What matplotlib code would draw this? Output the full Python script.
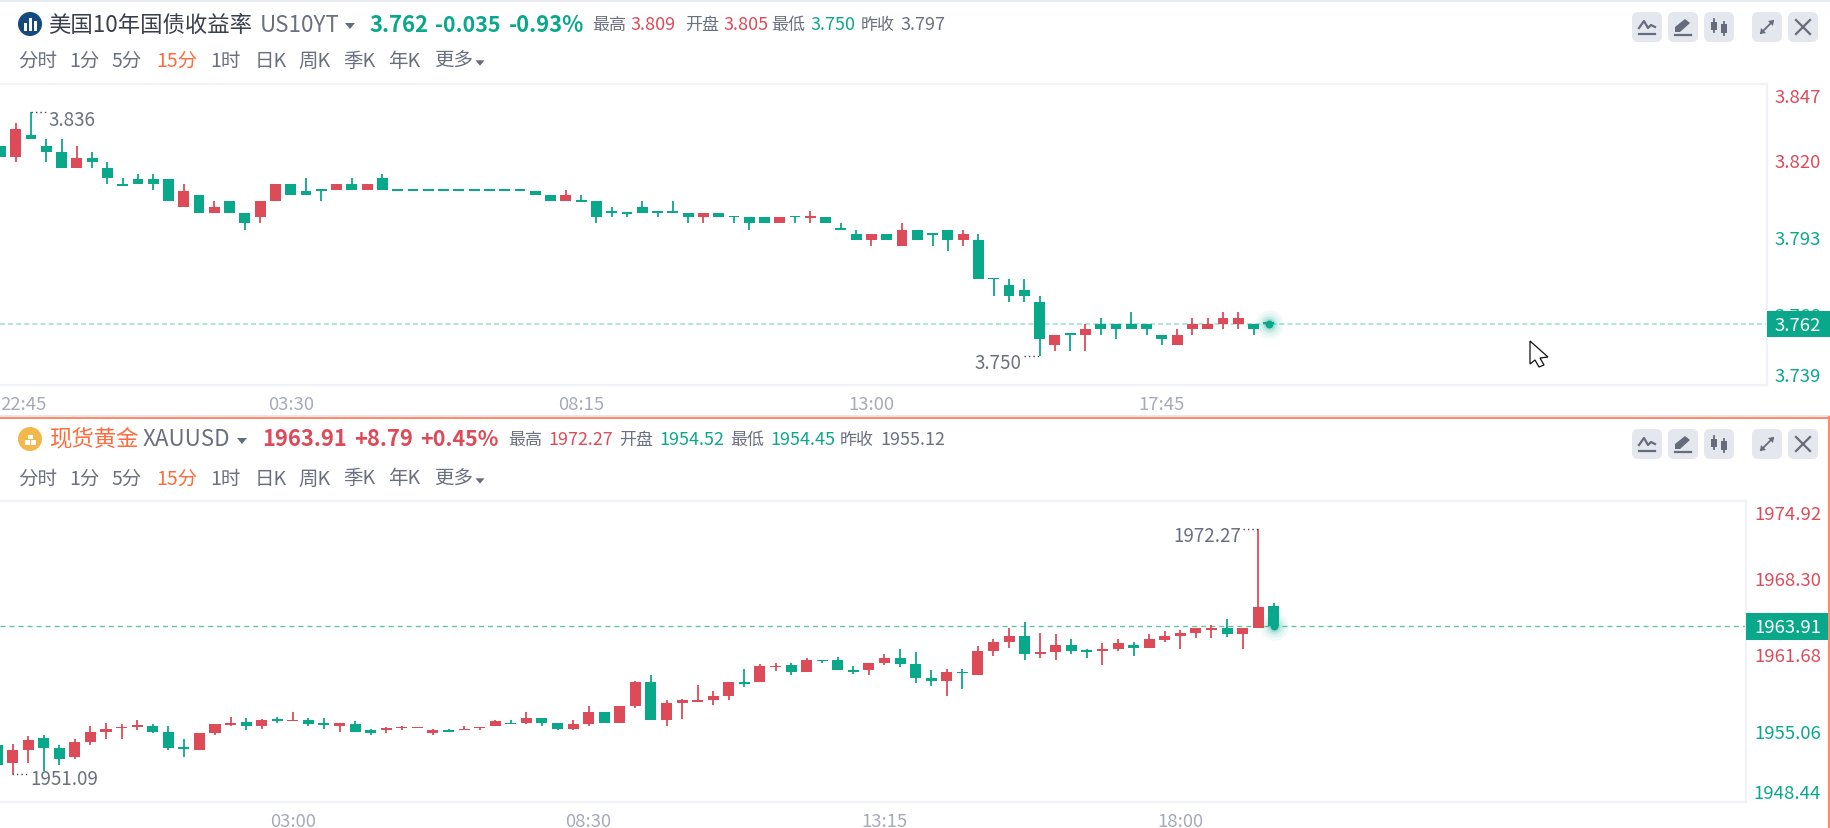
import numpy as np
import matplotlib
matplotlib.use("Agg")
import matplotlib.pyplot as plt
from matplotlib.patches import Circle, FancyBboxPatch, Polygon, Rectangle

plt.rcParams["font.family"] = ["Noto Sans CJK SC", "DejaVu Sans"]

W, H = 1830, 829
GREEN = "#0AA88A"
RED = "#DD4B59"
ORANGE = "#FF6B3D"
TEXT = "#6B7080"
DARK = "#3A3F4D"
TIME = "#A6AABA"
LINE = "#F1F2F7"
BTN = "#E4E7EE"
ICON = "#666C7B"

# 15 minute candles, US 10Y yield
US_OPEN = [
    3.8241, 3.8203, 3.8279, 3.8241, 3.8221, 3.8164, 3.8199, 3.8163, 3.8104, 3.8124,
    3.8124, 3.8124, 3.8026, 3.8067, 3.8005, 3.8046, 3.8004, 3.7989, 3.8048, 3.8105,
    3.8083, 3.8083, 3.8084, 3.8105, 3.8084, 3.8126, 3.8083, 3.8083, 3.8083, 3.8083,
    3.8083, 3.8083, 3.8083, 3.8083, 3.8083, 3.8083, 3.8067, 3.8048, 3.8046, 3.8046,
    3.8004, 3.8004, 3.8025, 3.8004, 3.8004, 3.8004, 3.7989, 3.8004, 3.7989, 3.7989,
    3.7989, 3.7968, 3.7989, 3.7988, 3.7989, 3.7945, 3.7930, 3.7909, 3.7930, 3.7888,
    3.7946, 3.7928, 3.7946, 3.7909, 3.7909, 3.7770, 3.7750, 3.7734, 3.7692, 3.7539,
    3.7575, 3.7576, 3.7613, 3.7613, 3.7613, 3.7613, 3.7575, 3.7539, 3.7596, 3.7596,
    3.7613, 3.7613, 3.7613, 3.7613,
]
US_CLOSE = [
    3.8200, 3.8300, 3.8264, 3.8221, 3.8164, 3.8199, 3.8185, 3.8126, 3.8100, 3.8105,
    3.8105, 3.8048, 3.8083, 3.8005, 3.8025, 3.8005, 3.7968, 3.8046, 3.8105, 3.8069,
    3.8069, 3.8083, 3.8105, 3.8084, 3.8105, 3.8084, 3.8083, 3.8083, 3.8083, 3.8083,
    3.8083, 3.8083, 3.8083, 3.8083, 3.8083, 3.8069, 3.8048, 3.8067, 3.8043, 3.7989,
    3.8004, 3.8002, 3.8004, 3.8004, 3.8004, 3.7989, 3.8004, 3.7989, 3.7989, 3.7968,
    3.7968, 3.7989, 3.7989, 3.7989, 3.7968, 3.7945, 3.7909, 3.7930, 3.7909, 3.7946,
    3.7909, 3.7928, 3.7909, 3.7930, 3.7771, 3.7770, 3.7713, 3.7713, 3.7560, 3.7575,
    3.7575, 3.7596, 3.7596, 3.7596, 3.7596, 3.7596, 3.7560, 3.7575, 3.7613, 3.7613,
    3.7634, 3.7634, 3.7596, 3.7613,
]
US_HIGH = [
    3.8241, 3.8321, 3.8360, 3.8264, 3.8264, 3.8241, 3.8221, 3.8183, 3.8126, 3.8142,
    3.8142, 3.8124, 3.8105, 3.8067, 3.8046, 3.8046, 3.8004, 3.8046, 3.8105, 3.8105,
    3.8126, 3.8083, 3.8105, 3.8126, 3.8105, 3.8142, 3.8083, 3.8083, 3.8083, 3.8083,
    3.8083, 3.8083, 3.8083, 3.8083, 3.8083, 3.8083, 3.8067, 3.8084, 3.8067, 3.8046,
    3.8026, 3.8004, 3.8046, 3.8004, 3.8046, 3.8004, 3.8004, 3.8004, 3.7989, 3.7989,
    3.7989, 3.7989, 3.7989, 3.8010, 3.7989, 3.7968, 3.7945, 3.7930, 3.7930, 3.7968,
    3.7946, 3.7928, 3.7946, 3.7946, 3.7930, 3.7770, 3.7771, 3.7771, 3.7713, 3.7575,
    3.7575, 3.7613, 3.7634, 3.7613, 3.7654, 3.7613, 3.7575, 3.7596, 3.7634, 3.7634,
    3.7654, 3.7654, 3.7613, 3.7613,
]
US_LOW = [
    3.8200, 3.8185, 3.8264, 3.8185, 3.8164, 3.8164, 3.8164, 3.8105, 3.8100, 3.8105,
    3.8084, 3.8048, 3.8026, 3.8005, 3.8005, 3.8005, 3.7946, 3.7968, 3.8048, 3.8069,
    3.8069, 3.8048, 3.8084, 3.8084, 3.8084, 3.8084, 3.8083, 3.8083, 3.8083, 3.8083,
    3.8083, 3.8083, 3.8083, 3.8083, 3.8083, 3.8069, 3.8048, 3.8048, 3.8043, 3.7968,
    3.7989, 3.7989, 3.8004, 3.7989, 3.8004, 3.7968, 3.7968, 3.7989, 3.7968, 3.7945,
    3.7968, 3.7968, 3.7968, 3.7968, 3.7968, 3.7945, 3.7909, 3.7888, 3.7909, 3.7888,
    3.7909, 3.7888, 3.7871, 3.7888, 3.7771, 3.7713, 3.7692, 3.7692, 3.7500, 3.7518,
    3.7518, 3.7518, 3.7575, 3.7560, 3.7596, 3.7575, 3.7539, 3.7539, 3.7575, 3.7596,
    3.7596, 3.7596, 3.7575, 3.7613,
]
US_TICKS = [3.847, 3.820, 3.793, 3.766, 3.739]
US_TICK_LABELS = ["3.847", "3.820", "3.793", "3.766", "3.739"]
US_TIME_POS = [0, 19, 38, 57, 76]
US_TIME_LABELS = ["22:45", "03:30", "08:15", "13:00", "17:45"]
US_PREV_CLOSE = 3.797

# 15 minute candles, spot gold
AU_OPEN = [
    1953.60, 1952.01, 1953.19, 1954.20, 1953.31, 1952.53, 1953.83, 1954.75, 1955.04, 1955.15,
    1955.24, 1954.72, 1953.28, 1953.19, 1954.61, 1955.35, 1955.61, 1955.27, 1955.76, 1955.64,
    1955.76, 1955.38, 1955.27, 1955.38, 1954.86, 1954.89, 1955.04, 1955.04, 1954.63, 1954.84,
    1954.86, 1955.04, 1955.27, 1955.47, 1955.53, 1955.90, 1955.50, 1955.01, 1955.38, 1956.42,
    1955.53, 1956.94, 1959.01, 1955.79, 1957.20, 1957.34, 1957.46, 1957.86, 1958.98, 1959.01,
    1960.31, 1960.54, 1959.91, 1960.94, 1960.94, 1960.05, 1960.05, 1960.68, 1961.09, 1960.57,
    1959.39, 1959.13, 1959.91, 1959.65, 1961.72, 1962.50, 1963.02, 1961.49, 1961.61, 1962.24,
    1961.72, 1961.75, 1961.87, 1962.24, 1961.98, 1962.64, 1963.02, 1963.28, 1963.57, 1963.68,
    1963.16, 1963.68, 1965.58,
]
AU_CLOSE = [
    1951.90, 1953.16, 1954.06, 1953.31, 1952.39, 1953.83, 1954.72, 1954.98, 1955.12, 1955.24,
    1954.75, 1953.31, 1953.28, 1954.61, 1955.38, 1955.50, 1955.27, 1955.76, 1955.67, 1955.73,
    1955.38, 1955.33, 1955.50, 1954.75, 1954.63, 1954.98, 1955.12, 1955.12, 1954.86, 1954.75,
    1954.98, 1955.12, 1955.64, 1955.38, 1955.90, 1955.53, 1955.01, 1955.38, 1956.42, 1955.53,
    1956.94, 1959.01, 1955.79, 1957.20, 1957.46, 1957.43, 1957.83, 1959.01, 1958.87, 1960.42,
    1960.42, 1959.91, 1960.94, 1960.83, 1960.05, 1959.94, 1960.68, 1961.09, 1960.57, 1959.39,
    1959.13, 1959.91, 1959.79, 1961.72, 1962.50, 1963.02, 1961.46, 1961.61, 1962.24, 1961.72,
    1961.63, 1961.87, 1962.38, 1961.98, 1962.76, 1963.02, 1963.28, 1963.68, 1963.68, 1963.16,
    1963.68, 1965.50, 1963.91,
]
AU_HIGH = [
    1953.60, 1953.68, 1954.35, 1954.46, 1953.57, 1954.09, 1955.24, 1955.50, 1955.38, 1955.76,
    1955.38, 1955.24, 1954.09, 1954.61, 1955.38, 1956.02, 1955.90, 1955.84, 1956.02, 1956.45,
    1955.90, 1955.90, 1955.50, 1955.64, 1954.98, 1955.12, 1955.24, 1955.12, 1954.98, 1954.98,
    1955.24, 1955.12, 1955.76, 1955.76, 1956.42, 1955.90, 1955.50, 1955.76, 1956.94, 1956.42,
    1956.94, 1959.13, 1959.65, 1957.46, 1957.57, 1958.75, 1958.24, 1959.01, 1960.17, 1960.57,
    1960.68, 1960.68, 1961.09, 1960.94, 1961.20, 1960.42, 1960.68, 1961.46, 1961.87, 1961.61,
    1960.05, 1960.17, 1960.17, 1962.12, 1962.76, 1963.68, 1964.20, 1963.28, 1963.16, 1962.76,
    1961.87, 1962.38, 1962.76, 1962.50, 1963.16, 1963.42, 1963.54, 1963.68, 1963.94, 1964.46,
    1963.68, 1972.27, 1965.87,
]
AU_LOW = [
    1951.90, 1951.09, 1952.01, 1951.38, 1951.87, 1952.42, 1953.57, 1954.09, 1954.09, 1954.86,
    1954.61, 1953.19, 1952.53, 1953.19, 1954.49, 1955.24, 1954.86, 1955.01, 1955.53, 1955.64,
    1955.27, 1955.01, 1954.75, 1954.75, 1954.49, 1954.63, 1954.86, 1955.04, 1954.49, 1954.72,
    1954.86, 1954.86, 1955.27, 1955.38, 1955.38, 1955.27, 1954.86, 1954.86, 1955.27, 1955.53,
    1955.53, 1956.82, 1955.79, 1955.27, 1955.87, 1957.34, 1957.08, 1957.46, 1958.64, 1959.01,
    1960.02, 1959.65, 1959.91, 1960.68, 1960.05, 1959.76, 1959.65, 1960.54, 1960.31, 1958.98,
    1958.73, 1957.83, 1958.47, 1959.65, 1961.32, 1961.98, 1960.94, 1961.09, 1960.94, 1961.46,
    1961.09, 1960.54, 1961.72, 1961.32, 1961.98, 1962.50, 1961.87, 1962.87, 1962.87, 1962.90,
    1961.87, 1963.68, 1963.85,
]
AU_TICKS = [1974.92, 1968.30, 1961.68, 1955.06, 1948.44]
AU_TICK_LABELS = ["1974.92", "1968.30", "1961.68", "1955.06", "1948.44"]
AU_TIME_POS = [19, 38, 57, 76]
AU_TIME_LABELS = ["03:00", "08:30", "13:15", "18:00"]
AU_PREV_CLOSE = 1955.12

PERIODS = ["分时", "1分", "5分", "15分", "1时", "日K", "周K", "季K", "年K", "更多"]
PERIOD_X = [18, 69, 112, 156, 210, 255, 298, 343, 388, 434]


def pts(px):
    return px * 0.72


fig = plt.figure(figsize=(W / 100, H / 100), dpi=100, facecolor="white")


def chart_axes(x0, x1, y0, y1):
    ax = fig.add_axes([x0 / W, 1 - y1 / H, (x1 - x0) / W, (y1 - y0) / H], zorder=1)
    ax.patch.set_alpha(0)
    return ax


def draw_candles(ax, opens, closes, highs, lows, height_px):
    o, c, h, l = map(np.array, (opens, closes, highs, lows))
    x = np.arange(len(o))
    colors = [RED if b > a else GREEN for a, b in zip(o, c)]
    y0, y1 = ax.get_ylim()
    min_h = (y1 - y0) / height_px * 1.6
    ax.vlines(x, l, h, colors=colors, lw=1.3, zorder=2)
    ax.bar(x, np.maximum(np.abs(c - o), min_h), bottom=np.minimum(o, c),
           width=0.71, color=colors, linewidth=0, zorder=3)


def draw_glow(ax, x, y):
    for s, a in [(420, 0.05), (260, 0.07), (140, 0.12), (70, 0.18)]:
        ax.scatter([x], [y], s=s, color=GREEN, alpha=a, linewidths=0, zorder=4, clip_on=False)
    ax.scatter([x], [y], s=32, color=GREEN, linewidths=0, zorder=5, clip_on=False)


def style_axes(ax, positions, labels):
    ax.set_yticks([])
    ax.set_xticks(positions, labels)
    ax.tick_params(axis="x", length=0, pad=7, labelsize=pts(18.5), labelcolor=TIME)
    for lab in ax.get_xticklabels():
        lab.set_x(lab.get_position()[0])
    ax.spines["left"].set_visible(False)
    for name in ("top", "right", "bottom"):
        ax.spines[name].set_color(LINE)
        ax.spines[name].set_linewidth(1.6)


# yield panel
ax1 = chart_axes(0, 1767, 85, 386)
ax1.set_xlim(-0.026, 115.6)
ax1.set_ylim(3.7398, 3.8459)
draw_candles(ax1, US_OPEN, US_CLOSE, US_HIGH, US_LOW, 301)
ax1.axhline(US_CLOSE[-1], color="#9ADFCF", lw=1.1, dashes=(3.3, 2.0), zorder=1)
draw_glow(ax1, len(US_CLOSE) - 1, US_CLOSE[-1])
style_axes(ax1, US_TIME_POS, US_TIME_LABELS)
ax1.get_xticklabels()[0].set_ha("left")

# gold panel
ax2 = chart_axes(0, 1746, 502, 803)
ax2.set_xlim(0.193, 112.33)
ax2.set_ylim(1948.67, 1974.69)
draw_candles(ax2, AU_OPEN, AU_CLOSE, AU_HIGH, AU_LOW, 301)
ax2.axhline(AU_CLOSE[-1], color="#62C2AD", lw=1.0, dashes=(3.6, 2.9), zorder=1)
draw_glow(ax2, len(AU_CLOSE) - 1, AU_CLOSE[-1])
style_axes(ax2, AU_TIME_POS, AU_TIME_LABELS)

# page furniture in pixel coordinates, above the charts
ui = fig.add_axes([0, 0, 1, 1], zorder=5)
ui.set_xlim(0, W)
ui.set_ylim(H, 0)
ui.axis("off")


def label(x, y, s, size=17, color=TEXT, ha="left", weight="normal", z=6):
    ui.text(x, y, s, fontsize=pts(size), color=color, ha=ha, va="center",
            fontweight=weight, zorder=z)


def tri(x, y, size=5):
    ui.add_patch(Polygon([(x - size, y - size * 0.6), (x + size, y - size * 0.6), (x, y + size * 0.6)],
                         closed=True, fc=ICON, ec="none"))


def button(x0, y0, kind):
    ui.add_patch(FancyBboxPatch((x0 + 4, y0 + 4), 22, 22, boxstyle="round,pad=4,rounding_size=6",
                                fc=BTN, ec="none"))
    cx, cy = x0 + 15, y0 + 15
    if kind == "line":
        ui.plot([cx - 8, cx + 8], [cy + 7, cy + 7], color=ICON, lw=1.6)
        ui.plot([cx - 8, cx - 3, cx + 1, cx + 4, cx + 8], [cy + 1, cy - 6, cy + 1, cy - 2, cy], color=ICON, lw=1.6)
    elif kind == "pen":
        ui.plot([cx - 8, cx + 8], [cy + 8, cy + 8], color=ICON, lw=1.6)
        ui.add_patch(Polygon([(cx - 8, cy + 5), (cx - 8, cy), (cx + 2, cy - 8), (cx + 7, cy - 4), (cx - 3, cy + 5)],
                             closed=True, fc=ICON, ec="none"))
    elif kind == "candles":
        ui.plot([cx - 5, cx - 5], [cy - 8, cy + 5], color=ICON, lw=1.3)
        ui.add_patch(Rectangle((cx - 8, cy - 5), 6, 8, fc=ICON, ec="none"))
        ui.plot([cx + 5, cx + 5], [cy - 5, cy + 8], color=ICON, lw=1.3)
        ui.add_patch(Rectangle((cx + 2, cy - 3), 6, 9, fc=ICON, ec="none"))
    elif kind == "expand":
        ui.plot([cx - 6, cx + 6], [cy + 6, cy - 6], color=ICON, lw=1.3)
        ui.add_patch(Polygon([(cx + 7, cy - 7), (cx + 1, cy - 6), (cx + 6, cy - 1)], fc=ICON, ec="none"))
        ui.add_patch(Polygon([(cx - 7, cy + 7), (cx - 1, cy + 6), (cx - 6, cy + 1)], fc=ICON, ec="none"))
    else:
        ui.plot([cx - 7, cx + 7], [cy - 7, cy + 7], color=ICON, lw=1.6)
        ui.plot([cx - 7, cx + 7], [cy + 7, cy - 7], color=ICON, lw=1.6)


def header_buttons(y0):
    for x0, kind in zip([1632, 1668, 1704, 1752, 1788], ["line", "pen", "candles", "expand", "close"]):
        button(x0, y0, kind)


def period_row(y):
    for x, s in zip(PERIOD_X, PERIODS):
        label(x, y, s, size=19.5, color=ORANGE if s == "15分" else TEXT)
    tri(480, y + 3, 4.5)


def price_labels(ticks, texts, prev, ax, top, bottom, x_right):
    y0, y1 = ax.get_ylim()
    for v, s in zip(ticks, texts):
        py = top + (y1 - v) / (y1 - y0) * (bottom - top) + 5
        py = np.clip(py, top + 13, bottom - 9)
        label(x_right, py, s, size=18.5, color=RED if v > prev else GREEN, ha="right")


# top strip and separators
ui.add_patch(Rectangle((0, 0), W, 2.5, fc="#E9EBF2", ec="none"))
ui.add_patch(Rectangle((0, 415.5), W, 2.5, fc="#E6E8F0", ec="none"))
ui.plot([0, W], [418.8, 418.8], color="#FF7548", lw=1.2)
ui.plot([W - 1, W - 1], [418, H], color="#FF8A65", lw=1.5)

# yield header
ui.add_patch(Circle((30, 25), 12, fc="#14497F", ec="none"))
for dx, top in [(-5, 24), (0, 19), (5, 22)]:
    ui.add_patch(Rectangle((30 + dx - 1.5, top), 3, 32 - top, fc="white", ec="none"))
label(48, 25, "美国10年国债收益率", size=22.4, color=DARK)
label(260, 25, "US10YT", size=22.4, color=TEXT)
tri(350, 27)
label(369, 25, "3.762", size=22, color=GREEN, weight="bold")
label(435, 25, "-0.035", size=21.5, color=GREEN, weight="bold")
label(509, 25, "-0.93%", size=22, color=GREEN, weight="bold")
for x, s, c, sz in [(592, "最高", TEXT, 17), (630, "3.809", RED, 18), (685, "开盘", TEXT, 17), (723, "3.805", RED, 18),
                    (771, "最低", TEXT, 17), (810, "3.750", GREEN, 18), (861, "昨收", TEXT, 17), (900, "3.797", TEXT, 18)]:
    label(x, 25, s, size=sz, color=c)
period_row(61)
header_buttons(13)
price_labels(US_TICKS, US_TICK_LABELS, US_PREV_CLOSE, ax1, 85, 386, 1821)
ui.add_patch(Rectangle((1767, 312), 63, 26, fc=GREEN, ec="none", zorder=7))
label(1821, 326, "3.762", size=18.5, color="white", ha="right", z=8)

# extreme markers, yield
ui.plot([31, 46], [113, 113], color="#444", lw=1, dashes=(1, 2.2))
label(48, 120, "3.836", size=18.8)
ui.plot([1024, 1040], [357, 357], color="#444", lw=1, dashes=(1, 2.2))
label(1021, 363, "3.750", size=18.8, ha="right")

# mouse pointer
ui.add_patch(Polygon([(1530, 342), (1530, 365), (1535, 361), (1539, 368), (1544, 366), (1540, 359), (1548, 358)],
                     closed=True, fc="white", ec="#111", lw=0.9, zorder=7))

# gold header
ui.add_patch(Circle((30, 440), 12, fc="#F2B84B", ec="none"))
for bx, by in [(24.5, 441), (30.5, 441), (27.5, 435.5)]:
    ui.add_patch(Rectangle((bx, by), 5, 4.5, fc="white", ec="none"))
label(49, 440, "现货黄金", size=22.4, color=ORANGE)
label(143, 440, "XAUUSD", size=22.4, color=TEXT)
tri(242, 442)
label(262, 440, "1963.91", size=22, color=RED, weight="bold")
label(354, 440, "+8.79", size=22, color=RED, weight="bold")
label(420, 440, "+0.45%", size=21.5, color=RED, weight="bold")
for x, s, c, sz in [(508, "最高", TEXT, 17), (548, "1972.27", RED, 18), (619, "开盘", TEXT, 17), (659, "1954.52", GREEN, 18),
                    (730, "最低", TEXT, 17), (770, "1954.45", GREEN, 18), (840, "昨收", TEXT, 17), (880, "1955.12", TEXT, 18)]:
    label(x, 440, s, size=sz, color=c)
period_row(479)
header_buttons(430)
price_labels(AU_TICKS, AU_TICK_LABELS, AU_PREV_CLOSE, ax2, 502, 803, 1821)
ui.add_patch(Rectangle((1746, 614), 82, 27, fc=GREEN, ec="none", zorder=7))
label(1821, 628, "1963.91", size=18.5, color="white", ha="right", z=8)

# extreme markers, gold
ui.plot([1243, 1258], [530, 530], color="#444", lw=1, dashes=(1, 2.2))
label(1241, 536, "1972.27", size=18.8, ha="right")
ui.plot([12, 28], [775, 775], color="#444", lw=1, dashes=(1, 2.2))
label(30, 780, "1951.09", size=18.8)

fig.savefig("out.png", dpi=100)
